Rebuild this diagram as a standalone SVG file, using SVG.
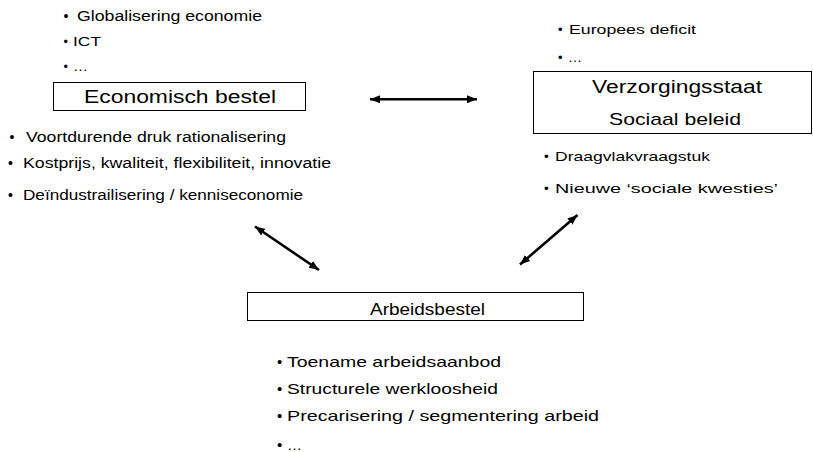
<svg xmlns="http://www.w3.org/2000/svg" width="813" height="452" viewBox="0 0 813 452">
  <style>
    text { font-family: "Liberation Sans", Arial, sans-serif; fill: #000; }
    .box { fill: #fff; stroke: #000; stroke-width: 1; }
    .arrow { stroke: #000; stroke-width: 2.6; fill: none; marker-start: url(#head); marker-end: url(#head); }
  </style>
  <defs>
    <marker id="head" markerUnits="userSpaceOnUse" viewBox="0 0 10 8" markerWidth="10" markerHeight="8" refX="10" refY="4" orient="auto-start-reverse">
      <path d="M0,0 L10,4 L0,8 z" fill="#000"/>
    </marker>
  </defs>
  <rect width="813" height="452" fill="#fff"/>

  <g id="economisch-bestel">
    <text font-size="14" y="21"><tspan x="63.5">•</tspan><tspan x="77" textLength="185" lengthAdjust="spacingAndGlyphs">Globalisering economie</tspan></text>
    <text font-size="12.5" y="46"><tspan x="63.5">•</tspan><tspan x="73" textLength="28" lengthAdjust="spacingAndGlyphs">ICT</tspan></text>
    <text font-size="12.5" y="71"><tspan x="63.5">•</tspan><tspan x="73" textLength="15" lengthAdjust="spacingAndGlyphs">…</tspan></text>
    <rect class="box" x="53.5" y="82.5" width="252" height="28"/>
    <text font-size="17.5" x="84" y="103" textLength="192" lengthAdjust="spacingAndGlyphs">Economisch bestel</text>
    <text font-size="14" y="142"><tspan x="9.5">•</tspan><tspan x="26" textLength="260" lengthAdjust="spacingAndGlyphs">Voortdurende druk rationalisering</tspan></text>
    <text font-size="14" y="167.5"><tspan x="8">•</tspan><tspan x="23" textLength="308" lengthAdjust="spacingAndGlyphs">Kostprijs, kwaliteit, flexibiliteit, innovatie</tspan></text>
    <text font-size="14" y="200"><tspan x="8">•</tspan><tspan x="23" textLength="280" lengthAdjust="spacingAndGlyphs">Deïndustrailisering / kenniseconomie</tspan></text>
  </g>

  <g id="verzorgingsstaat">
    <text font-size="13" y="34"><tspan x="558">•</tspan><tspan x="569" textLength="127" lengthAdjust="spacingAndGlyphs">Europees deficit</tspan></text>
    <text font-size="13" y="62"><tspan x="558">•</tspan><tspan x="568" textLength="14" lengthAdjust="spacingAndGlyphs">…</tspan></text>
    <rect class="box" x="533.5" y="71.5" width="278" height="62"/>
    <text font-size="17.5" x="592" y="92.5" textLength="170" lengthAdjust="spacingAndGlyphs">Verzorgingsstaat</text>
    <text font-size="17" x="609" y="125" textLength="132" lengthAdjust="spacingAndGlyphs">Sociaal beleid</text>
    <text font-size="13.5" y="160.5"><tspan x="544">•</tspan><tspan x="555" textLength="155" lengthAdjust="spacingAndGlyphs">Draagvlakvraagstuk</tspan></text>
    <text font-size="13.5" y="193"><tspan x="544">•</tspan><tspan x="555" textLength="223" lengthAdjust="spacingAndGlyphs">Nieuwe ‘sociale kwesties’</tspan></text>
  </g>

  <g id="arbeidsbestel">
    <rect class="box" x="247.5" y="292.5" width="336" height="28"/>
    <text font-size="17" x="370" y="314.5" textLength="115" lengthAdjust="spacingAndGlyphs">Arbeidsbestel</text>
    <text font-size="15" y="366.5"><tspan x="277">•</tspan><tspan x="287" textLength="214" lengthAdjust="spacingAndGlyphs">Toename arbeidsaanbod</tspan></text>
    <text font-size="15" y="393.5"><tspan x="277">•</tspan><tspan x="287" textLength="211" lengthAdjust="spacingAndGlyphs">Structurele werkloosheid</tspan></text>
    <text font-size="15" y="420.5"><tspan x="277">•</tspan><tspan x="287" textLength="312" lengthAdjust="spacingAndGlyphs">Precarisering / segmentering arbeid</tspan></text>
    <text font-size="15" y="450"><tspan x="277">•</tspan><tspan x="287" textLength="15" lengthAdjust="spacingAndGlyphs">…</tspan></text>
  </g>

  <g id="connectors">
    <line class="arrow" x1="370" y1="99.3" x2="477" y2="99.3"/>
    <line class="arrow" x1="255" y1="226.5" x2="319" y2="270"/>
    <line class="arrow" x1="577.5" y1="215" x2="520" y2="264.5"/>
  </g>
</svg>
